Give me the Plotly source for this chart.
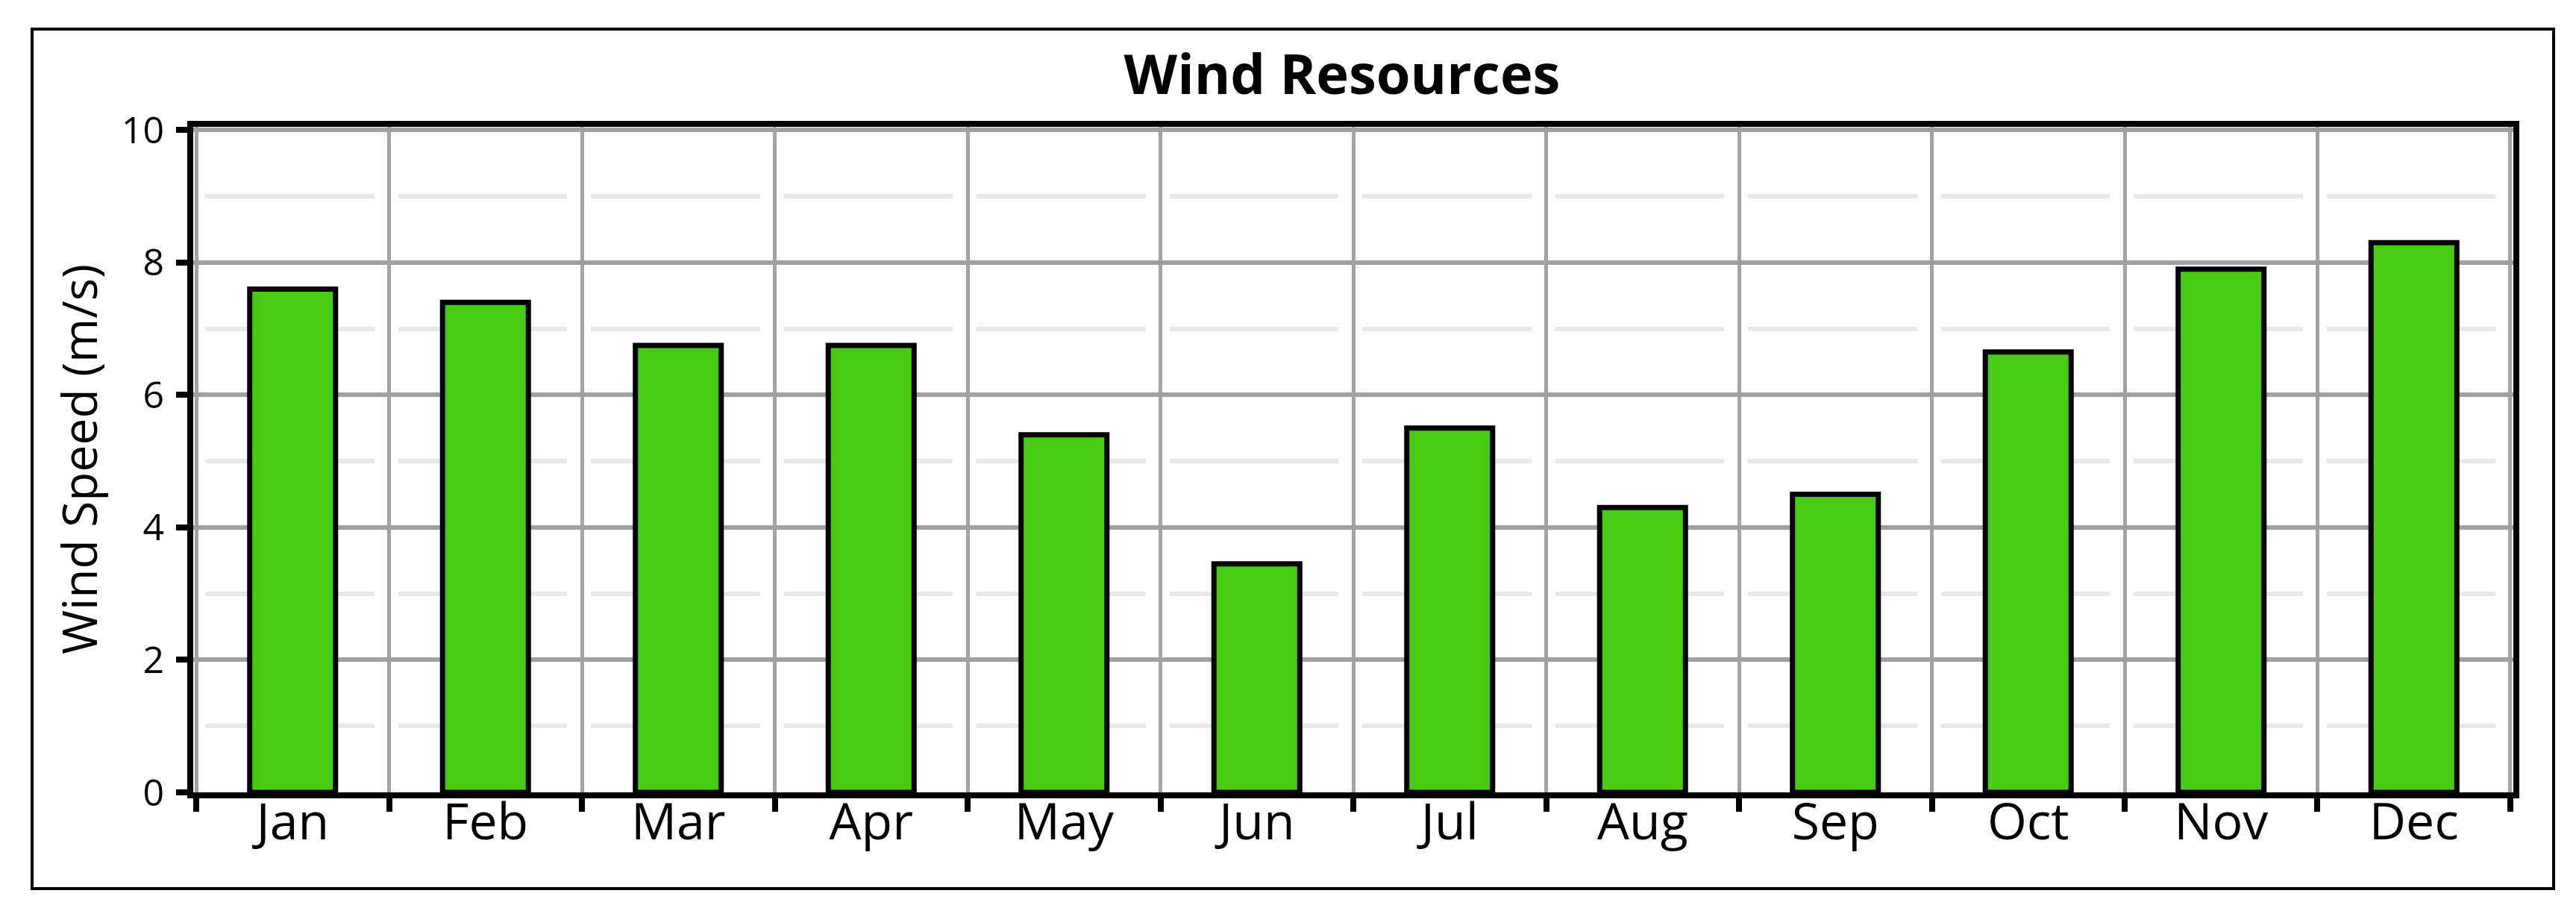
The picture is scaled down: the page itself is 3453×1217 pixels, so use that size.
import plotly.graph_objects as go

months = ["Jan", "Feb", "Mar", "Apr", "May", "Jun", "Jul", "Aug", "Sep", "Oct", "Nov", "Dec"]
wind_speed = [7.6, 7.4, 6.75, 6.75, 5.4, 3.45, 5.5, 4.3, 4.5, 6.65, 7.9, 8.3]
y_ticks = [0, 2, 4, 6, 8, 10]

W, H = 3453, 1217
L, R, T, B = 251, 92, 162, 163
pw, ph = W - L - R, H - T - B

fig = go.Figure()
fig.add_trace(go.Bar(
    x=months, y=wind_speed, width=0.445,
    marker=dict(color="#48CC12", line=dict(color="black", width=7)),
    showlegend=False, hoverinfo="x+y",
))

fig.update_layout(
    width=W, height=H,
    margin=dict(l=L, r=R, t=T, b=B, pad=0),
    paper_bgcolor="white", plot_bgcolor="white",
    font=dict(family="Open Sans", color="black"),
    title=dict(text="<b>Wind Resources</b>", font=dict(size=74, family="Open Sans", color="black"),
               x=(1791 - L) / pw, xref="paper", xanchor="center",
               y=1 - 92 / H, yref="container", yanchor="middle"),
    xaxis=dict(
        type="category", range=[-0.5155, 11.5155],
        tickson="boundaries", ticks="outside", ticklen=18, tickwidth=8, tickcolor="black",
        showline=True, linecolor="black", linewidth=8, mirror=True,
        showgrid=True, gridcolor="#A3A3A3", gridwidth=5,
        tickfont=dict(size=68, family="Open Sans", color="black"),
        ticklabelstandoff=-27,
        zeroline=False,
    ),
    yaxis=dict(
        range=[0, 10.05], tickvals=y_ticks, ticktext=[str(v) for v in y_ticks],
        ticks="outside", ticklen=15, tickwidth=8, tickcolor="black",
        showline=True, linecolor="black", linewidth=8, mirror=True,
        showgrid=True, gridcolor="#A0A0A0", gridwidth=6,
        minor=dict(tick0=0, dtick=1, showgrid=True, gridcolor="#E8E8E8", gridwidth=6,
                   griddash="0px,16px,226.5px,16px", ticks=""),
        tickfont=dict(size=50, family="Open Sans", color="black"),
        ticklabelstandoff=6,
        zeroline=False,
    ),
    bargap=0.555,
)

# y-axis title placed as rotated text beside the tick labels
fig.add_annotation(text="Wind Speed (m/s)", textangle=-90, showarrow=False,
                   xref="paper", yref="paper", x=(97 - L) / pw, y=0.5,
                   xanchor="center", yanchor="middle",
                   font=dict(size=64, family="Open Sans", color="black"))

# outer border frame
fig.add_shape(type="rect", xref="paper", yref="paper",
              x0=(35 - L) / pw, x1=(3415 - L) / pw,
              y0=(H - 1183 - B) / ph, y1=(H - 31 - B) / ph,
              line=dict(color="black", width=4), fillcolor="rgba(0,0,0,0)", layer="above")

fig.write_html("out.html")
